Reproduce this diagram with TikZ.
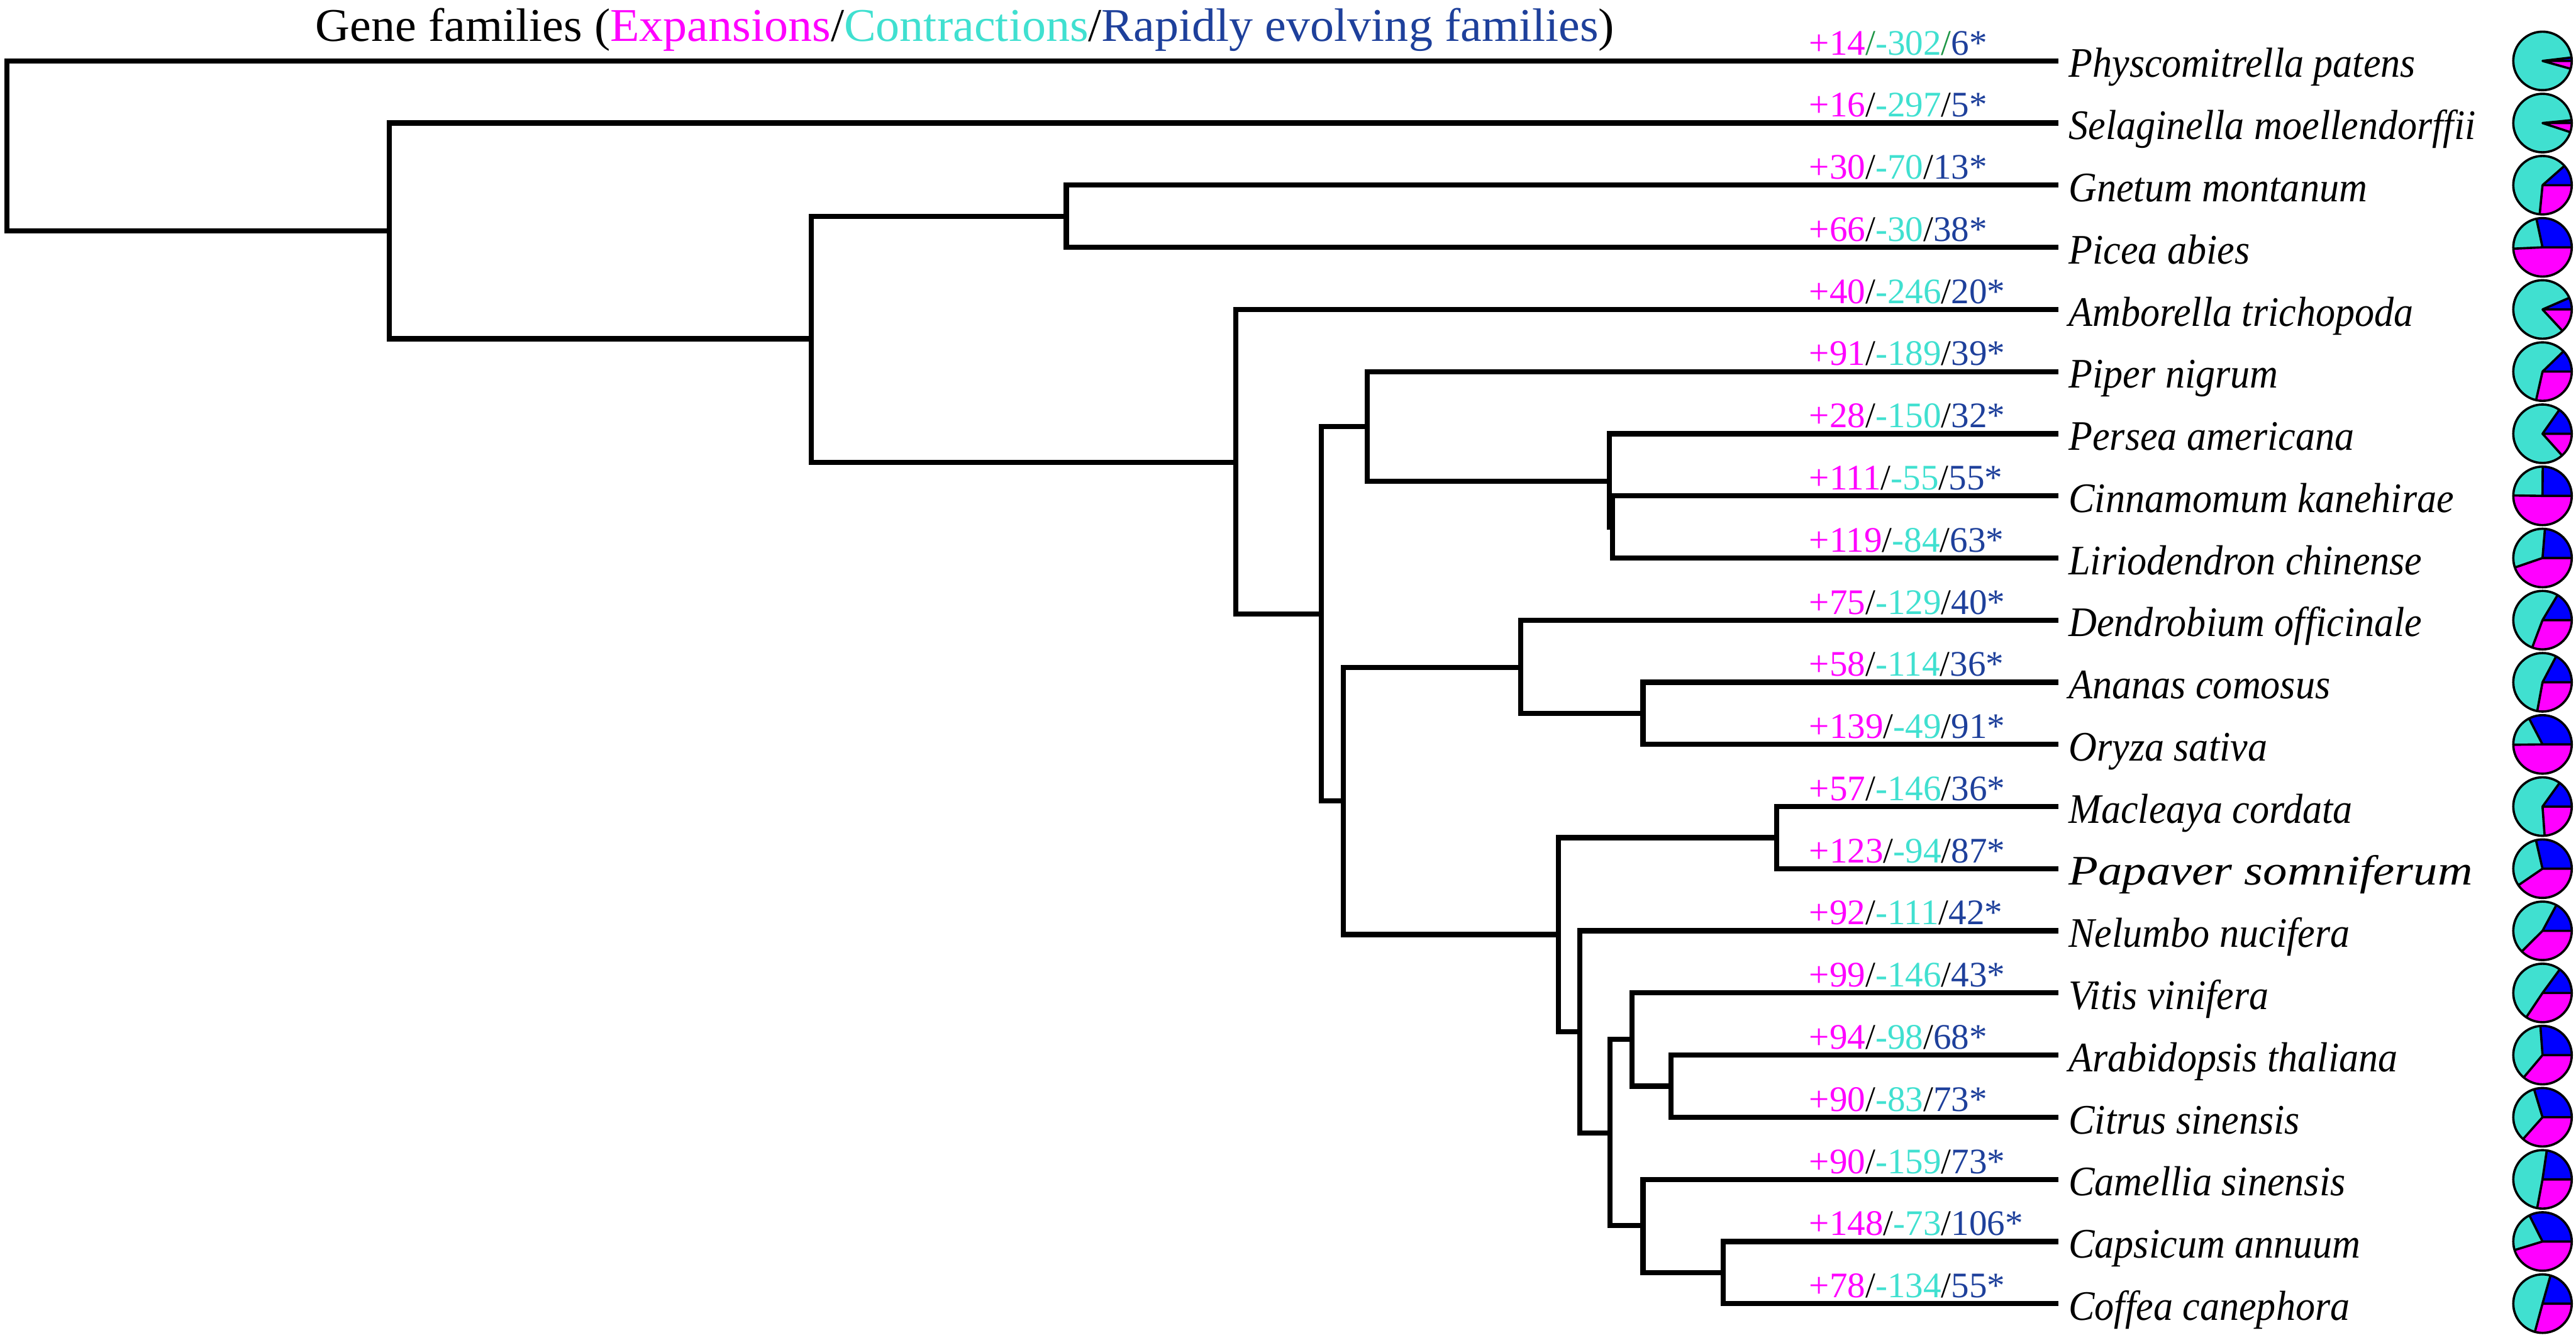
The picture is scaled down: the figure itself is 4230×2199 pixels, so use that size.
\documentclass[tikz,border=0pt]{standalone}
\usepackage{fontspec}
\setmainfont{Liberation Serif}
\definecolor{expc}{RGB}{255,0,255}
\definecolor{conc}{RGB}{64,224,208}
\definecolor{rapc}{RGB}{30,64,155}
\definecolor{pieblue}{RGB}{0,0,255}
\definecolor{slashg}{RGB}{30,150,70}
\begin{document}
\begin{tikzpicture}[x=0.2pt,y=-0.2pt,
  branch/.style={line width=1.7pt, line cap=rect, line join=miter},
  pieline/.style={line width=0.75pt, line join=round},
  spname/.style={anchor=base west, inner sep=0pt, font=\fontsize{13.8pt}{14pt}\selectfont\itshape},
  numlab/.style={anchor=base west, inner sep=0pt, font=\fontsize{11.8pt}{12pt}\selectfont},
  titlelab/.style={anchor=base west, inner sep=0pt, font=\fontsize{15.4pt}{16pt}\selectfont}]
\useasboundingbox (0,0) rectangle (4230,2199);

\node[titlelab] (title) at (517,68) {\scalebox{1.02}[1]{Gene families (\textcolor{expc}{Expansions}/\textcolor{conc}{Contractions}/\textcolor{rapc}{Rapidly evolving families})}};

\foreach \ii/\vN/\vE/\vC/\vR/\vS/\vX in {
  0/{Physcomitrella patens}/14/302/6/slashg/0.93,
  1/{Selaginella moellendorffii}/16/297/5/black/0.93,
  2/{Gnetum montanum}/30/70/13/black/0.93,
  3/{Picea abies}/66/30/38/black/0.93,
  4/{Amborella trichopoda}/40/246/20/black/0.93,
  5/{Piper nigrum}/91/189/39/black/0.93,
  6/{Persea americana}/28/150/32/black/0.93,
  7/{Cinnamomum kanehirae}/111/55/55/black/0.93,
  8/{Liriodendron chinense}/119/84/63/black/0.93,
  9/{Dendrobium officinale}/75/129/40/black/0.93,
  10/{Ananas comosus}/58/114/36/black/0.93,
  11/{Oryza sativa}/139/49/91/black/0.93,
  12/{Macleaya cordata}/57/146/36/black/0.93,
  13/{Papaver somniferum}/123/94/87/black/1.15,
  14/{Nelumbo nucifera}/92/111/42/black/0.93,
  15/{Vitis vinifera}/99/146/43/black/0.93,
  16/{Arabidopsis thaliana}/94/98/68/black/0.93,
  17/{Citrus sinensis}/90/83/73/black/0.93,
  18/{Camellia sinensis}/90/159/73/black/0.93,
  19/{Capsicum annuum}/148/73/106/black/0.93,
  20/{Coffea canephora}/78/134/55/black/0.93}{
  \pgfmathsetmacro\yy{100+102*\ii}
  \coordinate (t\ii) at (3376,\yy);
  \node[numlab] (lab\ii) at (2970,\yy-10) {\textcolor{expc}{+\vE}\textcolor{\vS}{/}\textcolor{conc}{-\vC}\textcolor{\vS}{/}\textcolor{rapc}{\vR*}};
  \node[spname] (sp\ii) at (3396,\yy+27) {\scalebox{\vX}[1]{\vN}};
  \coordinate (pie\ii) at (4175,\yy);
  \pgfmathsetmacro\pieA{\vR/(\vE+\vC+\vR)*360}
  \pgfmathsetmacro\pieB{(\vR+\vC)/(\vE+\vC+\vR)*360}
  \begin{scope}[shift={(pie\ii)}, x=0.2pt, y=0.2pt]
    \fill[pieblue] (0,0) -- (0:48) arc[start angle=0, end angle=\pieA, radius=48] -- cycle;
    \fill[conc] (0,0) -- (\pieA:48) arc[start angle=\pieA, end angle=\pieB, radius=48] -- cycle;
    \fill[expc] (0,0) -- (\pieB:48) arc[start angle=\pieB, end angle=360, radius=48] -- cycle;
    \draw[pieline] (0,0) circle[radius=48];
    \draw[pieline] (0:48) -- (0,0) -- (\pieA:48) (0,0) -- (\pieB:48);
  \end{scope}
}

\coordinate (root) at (11,240);
\coordinate (nA) at (639,379);
\coordinate (nB) at (1332,556);
\coordinate (nC) at (1751,355);
\coordinate (nD) at (2029,759);
\coordinate (nE) at (2170,1008);
\coordinate (nF) at (2245,700);
\coordinate (nH) at (2643,790);
\coordinate (nI) at (2648,865);
\coordinate (nG) at (2206,1315);
\coordinate (nJ) at (2497,1096);
\coordinate (nL) at (2698,1171);
\coordinate (nK) at (2559,1534);
\coordinate (nM) at (2917,1375);
\coordinate (nN) at (2594,1694);
\coordinate (nO) at (2644,1860);
\coordinate (nP) at (2680,1706);
\coordinate (nR) at (2744,1783);
\coordinate (nQ) at (2698,2012);
\coordinate (nS) at (2830,2089);

\foreach \pp/\cc in {root/t0, root/nA, nA/t1, nA/nB, nB/nC, nB/nD, nC/t2, nC/t3,
  nD/t4, nD/nE, nE/nF, nE/nG, nF/t5, nF/nH, nH/t6, nH/nI, nI/t7, nI/t8,
  nG/nJ, nG/nK, nJ/t9, nJ/nL, nL/t10, nL/t11, nK/nM, nK/nN, nM/t12, nM/t13,
  nN/t14, nN/nO, nO/nP, nO/nQ, nP/t15, nP/nR, nR/t16, nR/t17, nQ/t18, nQ/nS,
  nS/t19, nS/t20}
  \draw[branch] (\pp) |- (\cc);
\end{tikzpicture}
\end{document}
